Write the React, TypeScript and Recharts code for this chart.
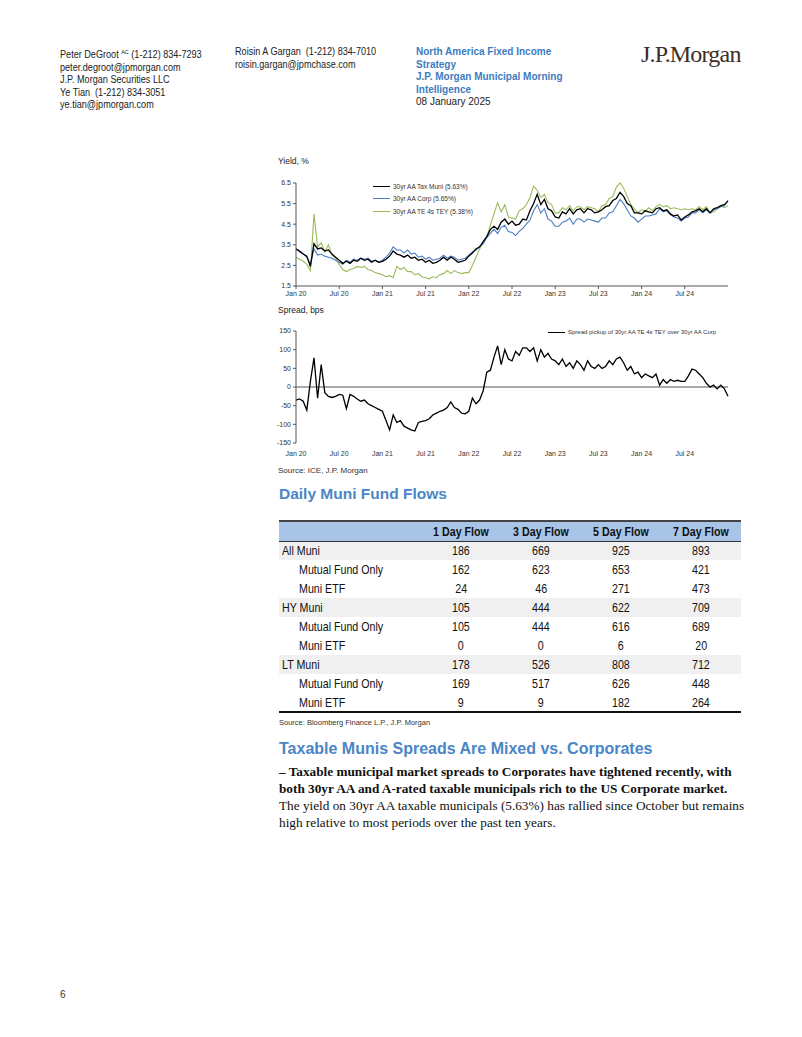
import React from "react";
import { LineChart, Line, XAxis, YAxis, ReferenceLine } from "recharts";

// month offsets from Jan 2020 where axis labels sit
const monthTicks = [0, 6, 12, 18, 24, 30, 36, 42, 48, 54];
const tickLabels = ["Jan 20", "Jul 20", "Jan 21", "Jul 21", "Jan 22", "Jul 22", "Jan 23", "Jul 23", "Jan 24", "Jul 24"];

// semi-monthly readings, Jan 2020 .. Jan 2025 (yield, %)
const taxMuni = [
  3.3, 3.2, 3.05, 2.95, 2.45, 3.55, 3.3, 3.35, 3.2, 3.25, 3.05, 2.9, 2.75, 2.6, 2.7, 2.6, 2.75, 2.7, 2.85, 2.75, 2.8, 2.65, 2.75, 2.65,
  2.7, 2.8, 2.95, 3.2, 3.05, 3.0, 2.9, 3.0, 2.85, 2.9, 2.75, 2.8, 2.65, 2.75, 2.6, 2.65, 2.75, 2.9, 2.75, 2.9, 2.8, 2.65, 2.7, 2.75,
  2.95, 3.1, 3.3, 3.4, 3.65, 3.9, 4.25, 4.4, 4.25, 4.6, 4.75, 4.5, 4.65, 4.45, 4.5, 4.75, 4.7, 5.15, 5.5, 5.95, 5.45, 5.7, 5.25, 5.15,
  4.85, 4.8, 5.1, 5.0, 5.25, 5.0, 5.2, 5.25, 5.05, 5.25, 5.2, 5.05, 5.1, 5.2, 5.35, 5.4, 5.65, 5.75, 6.05, 5.85, 5.5, 5.4, 5.05, 5.05,
  5.0, 5.15, 5.1, 5.05, 5.25, 5.3, 5.15, 5.2, 5.0, 4.9, 4.95, 4.7, 4.85, 4.95, 5.1, 5.15, 5.25, 5.1, 5.25, 5.05, 5.25, 5.3, 5.4, 5.45,
  5.63,
];
const corp = [
  3.3, 3.15, 3.05, 2.9, 2.55, 3.3, 3.0, 3.05, 2.95, 2.9, 2.85, 2.75, 2.65, 2.55, 2.75, 2.65, 2.8, 2.75, 2.85, 2.8, 2.85, 2.7, 2.75, 2.65,
  2.75, 2.9, 3.1, 3.4, 3.25, 3.25, 3.1, 3.25, 3.05, 3.1, 2.9, 2.95, 2.8, 2.9, 2.75, 2.8, 2.85, 3.0, 2.85, 2.95, 2.9, 2.75, 2.8, 2.85,
  3.0, 3.15, 3.25, 3.4, 3.55, 3.85, 4.05, 4.25, 4.05, 4.35, 4.45, 4.15, 4.1, 3.95, 4.15, 4.3, 4.5, 4.7, 5.15, 5.45, 5.05, 5.25, 4.75, 4.65,
  4.4, 4.4, 4.6, 4.65, 4.8, 4.5, 4.75, 4.75, 4.6, 4.75, 4.7, 4.65, 4.6, 4.8, 4.8, 5.05, 5.1, 5.4, 5.7, 5.5, 5.2, 4.9, 4.8, 4.6,
  4.75, 4.9, 4.9, 4.95, 5.0, 5.25, 5.1, 5.15, 4.95, 4.85, 4.8, 4.65, 4.8, 4.85, 5.05, 5.05, 5.2, 5.05, 5.2, 5.05, 5.2, 5.25, 5.35, 5.4,
  5.65,
];
const teTey = [
  2.9, 2.8, 2.7, 2.55, 2.25, 5.0, 3.4, 3.6, 3.15, 3.5, 3.0, 2.85, 2.55, 2.3, 2.2, 2.3, 2.35, 2.45, 2.4, 2.45, 2.3, 2.25, 2.15, 2.1,
  2.05, 1.95, 2.0, 1.9, 2.45, 2.3, 2.4, 2.2, 2.2, 2.05, 2.1, 1.95, 1.9, 1.85, 1.95, 1.9, 2.05, 2.1, 2.25, 2.1, 2.25, 2.15, 2.1, 2.15,
  2.15, 2.5, 2.9, 3.3, 3.65, 3.9, 4.45, 5.0, 5.55, 5.1, 5.45, 4.85, 4.8, 4.75, 5.15, 5.25, 5.45, 5.8, 6.35, 6.15, 5.8, 5.95, 5.55, 5.45,
  5.05, 5.05, 5.3, 5.2, 5.4, 5.15, 5.35, 5.35, 5.2, 5.35, 5.3, 5.25, 5.1, 5.4, 5.45, 5.75, 5.85, 6.3, 6.5, 6.25, 5.85, 5.45, 5.25, 5.05,
  5.2, 5.15, 5.3, 5.15, 5.35, 5.45, 5.35, 5.4, 5.25, 5.3, 5.25, 5.2, 5.25, 5.2, 5.25, 5.2, 5.35, 5.2, 5.35, 5.05, 5.1, 5.25, 5.4, 5.3,
  5.38,
];
// spread pickup, bps
const spread = [
  -35, -32, -38, -62, 15, 78, -30, 60, -15, -25, -28, -25, -20, -22, -58, -20, -25, -32, -38, -35, -45, -50, -55, -60,
  -65, -90, -115, -75, -95, -90, -105, -110, -115, -118, -95, -92, -90, -85, -75, -70, -65, -62, -55, -40, -55, -60, -70, -72,
  -65, -30, -45, -35, -10, 40, 45, 80, 110, 60, 100, 75, 70, 95, 85, 105, 105, 95, 105, 70, 100, 80, 90, 75,
  70, 60, 75, 55, 65, 50, 70, 60, 45, 70, 55, 50, 60, 50, 55, 70, 60, 75, 80, 65, 45, 55, 35, 40,
  25, 35, 30, 25, 35, 5, 20, 10, 20, 15, 18, 15, 15, 30, 48, 45, 35, 25, 10, 0, 5, -5, 5, -5,
  -25,
];

const yieldSeries = [
  { key: "taxMuni", name: "30yr AA Tax Muni (5.63%)", color: "#000000", width: 1.3 },
  { key: "corp", name: "30yr AA Corp (5.65%)", color: "#4a7ebf", width: 1.1 },
  { key: "tey", name: "30yr AA TE 4s TEY (5.38%)", color: "#9bbb59", width: 1.1 },
];

const obsMonths = taxMuni.map((_, i) => i / 2);
const yieldData = obsMonths.map((m, i) => ({ m, taxMuni: taxMuni[i], corp: corp[i], tey: teTey[i] }));
const spreadData = obsMonths.map((m, i) => ({ m, spread: spread[i] }));

const flowCols = ["1 Day Flow", "3 Day Flow", "5 Day Flow", "7 Day Flow"];
const flowRows = [
  { label: "All Muni", sub: false, v: [186, 669, 925, 893] },
  { label: "Mutual Fund Only", sub: true, v: [162, 623, 653, 421] },
  { label: "Muni ETF", sub: true, v: [24, 46, 271, 473] },
  { label: "HY Muni", sub: false, v: [105, 444, 622, 709] },
  { label: "Mutual Fund Only", sub: true, v: [105, 444, 616, 689] },
  { label: "Muni ETF", sub: true, v: [0, 0, 6, 20] },
  { label: "LT Muni", sub: false, v: [178, 526, 808, 712] },
  { label: "Mutual Fund Only", sub: true, v: [169, 517, 626, 448] },
  { label: "Muni ETF", sub: true, v: [9, 9, 182, 264] },
];

const sans = "'Liberation Sans', Arial, sans-serif";
const serif = "'Liberation Serif', 'Times New Roman', serif";
const blue = "#4a86c5";
const tickStyle = { fontSize: 7, fill: "#333", fontFamily: sans };
const fmtMonth = (m: number) => tickLabels[monthTicks.indexOf(m)] ?? "";

const abs = (left: number, top: number, extra: React.CSSProperties = {}): React.CSSProperties => ({
  position: "absolute",
  left,
  top,
  whiteSpace: "nowrap",
  ...extra,
});

// narrow text look (the report uses a condensed face)
const Narrow = ({ children, origin = "center" }: { children: React.ReactNode; origin?: string }) => (
  <span style={{ display: "inline-block", transform: "scaleX(0.82)", transformOrigin: origin }}>{children}</span>
);

export default function App() {
  const hdr: React.CSSProperties = {
    fontFamily: sans,
    fontSize: 10,
    color: "#222",
    lineHeight: "12.5px",
    transform: "scaleX(0.91)",
    transformOrigin: "left top",
  };
  return (
    <div style={{ position: "absolute", left: 0, top: 0, width: 802, height: 1037, background: "#fff", overflow: "hidden" }}>
      {/* page header */}
      <div style={abs(60, 46, hdr)}>
        <div>
          Peter DeGroot <sup style={{ fontSize: 6 }}>AC</sup> (1-212) 834-7293
        </div>
        <div>peter.degroot@jpmorgan.com</div>
        <div>J.P. Morgan Securities LLC</div>
        <div>Ye Tian&nbsp; (1-212) 834-3051</div>
        <div>ye.tian@jpmorgan.com</div>
      </div>
      <div style={abs(235, 46, hdr)}>
        <div>Roisin A Gargan&nbsp; (1-212) 834-7010</div>
        <div>roisin.gargan@jpmchase.com</div>
      </div>
      <div style={abs(416, 46, { fontFamily: sans, fontSize: 10, color: "#222", lineHeight: "12.5px" })}>
        <div style={{ color: "#3d7cc0", fontWeight: "bold" }}>North America Fixed Income</div>
        <div style={{ color: "#3d7cc0", fontWeight: "bold" }}>Strategy</div>
        <div style={{ color: "#3d7cc0", fontWeight: "bold" }}>J.P. Morgan Municipal Morning</div>
        <div style={{ color: "#3d7cc0", fontWeight: "bold" }}>Intelligence</div>
        <div>08 January 2025</div>
      </div>
      <div style={abs(641, 41, { fontFamily: serif, fontSize: 24, color: "#3a2e26", letterSpacing: -0.8 })}>J.P.Morgan</div>

      {/* yield chart */}
      <div style={abs(278, 156, { fontFamily: sans, fontSize: 8.5, color: "#222" })}>Yield, %</div>
      <div style={abs(270, 176)}>
        <LineChart width={470} height={130} data={yieldData} margin={{ top: 7, right: 12, bottom: 4, left: 0 }}>
          <XAxis
            dataKey="m"
            type="number"
            domain={[0, 60]}
            ticks={monthTicks}
            tickFormatter={fmtMonth}
            tick={tickStyle}
            tickSize={3}
            height={16}
            stroke="#555"
            interval={0}
          />
          <YAxis
            domain={[1.5, 6.5]}
            ticks={[1.5, 2.5, 3.5, 4.5, 5.5, 6.5]}
            tickFormatter={(v: number) => v.toFixed(1)}
            tick={tickStyle}
            tickSize={3}
            width={26}
            stroke="#555"
            interval={0}
          />
          {yieldSeries
            .slice()
            .reverse()
            .map((s) => (
              <Line
                key={s.key}
                dataKey={s.key}
                name={s.name}
                stroke={s.color}
                strokeWidth={s.width}
                dot={false}
                isAnimationActive={false}
                type="linear"
              />
            ))}
        </LineChart>
      </div>
      <div style={abs(373, 180, { fontFamily: sans, fontSize: 6.5, color: "#333" })}>
        {yieldSeries.map((s) => (
          <div key={s.key} style={{ display: "flex", alignItems: "center", height: 12.5 }}>
            <span style={{ display: "inline-block", width: 17, borderTop: `1.6px solid ${s.color}`, marginRight: 3 }} />
            {s.name}
          </div>
        ))}
      </div>

      {/* spread chart */}
      <div style={abs(278, 305, { fontFamily: sans, fontSize: 8.5, color: "#222" })}>Spread, bps</div>
      <div style={abs(270, 324)}>
        <LineChart width={470} height={139} data={spreadData} margin={{ top: 7, right: 12, bottom: 4, left: 0 }}>
          <XAxis
            dataKey="m"
            type="number"
            domain={[0, 60]}
            ticks={monthTicks}
            tickFormatter={fmtMonth}
            tick={tickStyle}
            tickLine={false}
            axisLine={false}
            height={16}
            interval={0}
          />
          <YAxis
            domain={[-150, 150]}
            ticks={[-150, -100, -50, 0, 50, 100, 150]}
            tick={tickStyle}
            tickSize={3}
            width={26}
            stroke="#555"
            interval={0}
          />
          <ReferenceLine y={0} stroke="#555" strokeWidth={1} />
          <Line dataKey="spread" stroke="#000" strokeWidth={1.3} dot={false} isAnimationActive={false} type="linear" />
        </LineChart>
      </div>
      <div style={abs(548, 329, { fontFamily: sans, fontSize: 6, color: "#333", display: "flex", alignItems: "center" })}>
        <span style={{ display: "inline-block", width: 17, borderTop: "1.4px solid #000", marginRight: 3 }} />
        Spread pickup of 30yr AA TE 4s TEY over 30yr AA Corp
      </div>
      <div style={abs(278, 466, { fontFamily: sans, fontSize: 8, color: "#333" })}>Source: ICE, J.P. Morgan</div>

      {/* fund flow table */}
      <div style={abs(279, 485, { fontFamily: sans, fontSize: 15.5, fontWeight: "bold", color: blue })}>Daily Muni Fund Flows</div>
      <table
        style={{
          position: "absolute",
          left: 279,
          top: 520,
          width: 462,
          borderCollapse: "collapse",
          fontFamily: sans,
          fontSize: 13,
          color: "#111",
        }}
      >
        <thead>
          <tr style={{ background: "#a8c5e8", height: 20, borderTop: "2px solid #444", borderBottom: "1.5px solid #333" }}>
            <th style={{ width: 142, padding: 0 }} />
            {flowCols.map((c) => (
              <th key={c} style={{ width: 80, textAlign: "center", fontWeight: "bold", padding: 0 }}>
                <Narrow>{c}</Narrow>
              </th>
            ))}
          </tr>
        </thead>
        <tbody>
          {flowRows.map((r, i) => (
            <tr
              key={i}
              style={{
                height: 19,
                background: r.sub ? "#fff" : "#f0f0f0",
                borderBottom: i === flowRows.length - 1 ? "2px solid #111" : undefined,
              }}
            >
              <td style={{ padding: 0 }}>
                <span style={{ marginLeft: r.sub ? 20 : 3, display: "inline-block" }}>
                  <Narrow origin="left">{r.label}</Narrow>
                </span>
              </td>
              {r.v.map((v, j) => (
                <td key={j} style={{ textAlign: "center", padding: 0 }}>
                  <Narrow>{v}</Narrow>
                </td>
              ))}
            </tr>
          ))}
        </tbody>
      </table>
      <div style={abs(279, 718, { fontFamily: sans, fontSize: 7.5, color: "#333" })}>
        Source: Bloomberg Finance L.P., J.P. Morgan
      </div>

      {/* commentary */}
      <div style={abs(279, 740, { fontFamily: sans, fontSize: 16, fontWeight: "bold", color: blue })}>
        Taxable Munis Spreads Are Mixed vs. Corporates
      </div>
      <div style={abs(279, 763, { fontFamily: serif, fontSize: 13.25, lineHeight: "17px", color: "#111" })}>
        <div style={{ fontWeight: "bold" }}>
          – Taxable municipal market spreads to Corporates have tightened recently, with
        </div>
        <div style={{ fontWeight: "bold" }}>
          both 30yr AA and A-rated taxable municipals rich to the US Corporate market.
        </div>
        <div>The yield on 30yr AA taxable municipals (5.63%) has rallied since October but remains</div>
        <div>high relative to most periods over the past ten years.</div>
      </div>

      <div style={abs(60, 989, { fontFamily: sans, fontSize: 10, color: "#333" })}>6</div>
    </div>
  );
}
